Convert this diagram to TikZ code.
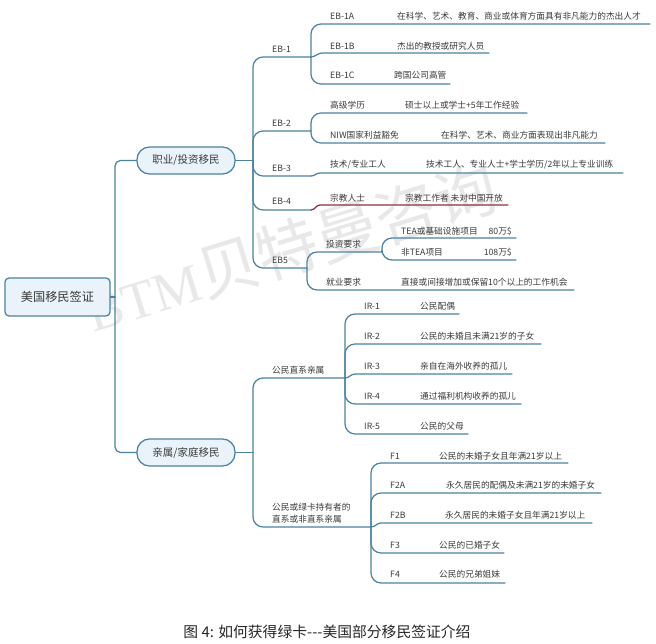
\documentclass[tikz,border=0pt]{standalone}
\usepackage{fontspec}
\setmainfont{Noto Sans CJK SC}
\newfontfamily\wmlatin{Liberation Serif}
\definecolor{linec}{HTML}{4A82A0}
\definecolor{boxfill}{HTML}{EAF3FA}
\definecolor{txt}{HTML}{3A3A3A}
\definecolor{wm}{HTML}{E8E8E8}
\definecolor{redline}{HTML}{8E3036}
\tikzset{
  conn/.style={draw=linec,line width=1.25pt,line cap=round},
  redconn/.style={draw=redline,line width=1.25pt,line cap=round},
  rc/.style={rounded corners=10pt},
  rs/.style={rounded corners=5.5pt},
  lab/.style={anchor=west,inner sep=0pt,text=txt,font=\fontsize{8.7}{10}\selectfont},
  rootbox/.style={draw=linec,line width=1.25pt,fill=boxfill,rounded corners=4pt,minimum width=105pt,minimum height=38pt,inner sep=0pt,text=txt,font=\fontsize{12.2}{14}\selectfont},
  pill/.style={draw=linec,line width=1.25pt,fill=boxfill,rounded corners=12.5pt,minimum width=98pt,minimum height=27pt,inner sep=0pt,text=txt,font=\fontsize{10.5}{12}\selectfont},
  sbend/.style={to path={.. controls +(4,0) and +(-4,0) .. (\tikztotarget)}}
}
\newcommand{\lab}[4]{\node[lab] (#1) at (#2,#3) {#4};}
\begin{document}
\begin{tikzpicture}[x=1pt,y=-1pt]
\useasboundingbox (0,0) rectangle (656,644);
\fill[white] (0,0) rectangle (656,644);
% watermark
\node[rotate=17,text=wm,inner sep=0pt,font=\fontsize{62}{66}\selectfont] (wmark) at (291,248) {{\wmlatin\fontsize{54}{60}\selectfont BTM}贝特曼咨询};
% main boxes
\node[rootbox] (root) at (57.5,297) {美国移民签证};
\node[pill] (job) at (186,160.5) {职业/投资移民};
\node[pill] (fam) at (186,452.5) {亲属/家庭移民};
% junctions and line ends
\coordinate (jr) at (115,297);
\coordinate (js1) at (253,160.5);
\coordinate (js2) at (253,452.5);
\coordinate (j1) at (311,57);
\coordinate (j2) at (311,131);
\coordinate (j3) at (311,176);
\coordinate (j4) at (311,210);
\coordinate (j5) at (307,268);
\coordinate (j51) at (382,252);
\coordinate (jir) at (345,378);
\coordinate (jf) at (371,527);
\coordinate (e1a) at (650,24);
\coordinate (k1b) at (322,53);
\coordinate (e1b) at (489,53);
\coordinate (e1c) at (450,84);
\coordinate (e2a) at (527,113);
\coordinate (e2b) at (605,143);
\coordinate (k3) at (320,173);
\coordinate (e3) at (623,173);
\coordinate (k4) at (320,205);
\coordinate (e4) at (508,205);
\coordinate (e51a) at (516,238);
\coordinate (e51b) at (516,260);
\coordinate (e52) at (574,290);
\coordinate (eir1) at (459,314);
\coordinate (eir2) at (541,344);
\coordinate (kir3) at (355,374);
\coordinate (eir3) at (512,374);
\coordinate (eir4) at (521,404);
\coordinate (eir5) at (468,434);
\coordinate (ef1) at (568,463);
\coordinate (ef2a) at (601,493);
\coordinate (kf2b) at (381,523);
\coordinate (ef2b) at (592,523);
\coordinate (ef3) at (504,553);
\coordinate (ef4) at (505,583);
% connectors
\draw[conn] (root) -- (jr);
\draw[conn,rs] (jr) |- (job.west);
\draw[conn,rs] (jr) |- (fam.west);
\draw[conn] (job.east) -- (js1);
\draw[conn] (fam.east) -- (js2);
\draw[conn,rc] (js1) |- (j1);
\draw[conn,rc] (js1) |- (j2);
\draw[conn,rc] (js1) |- (j3);
\draw[conn,rc] (js1) |- (j4);
\draw[conn,rc] (js1) |- (j5);
\draw[conn,rc] (j1) |- (e1a);
\draw[conn] (j1) to[sbend] (k1b) -- (e1b);
\draw[conn,rc] (j1) |- (e1c);
\draw[conn,rc] (j2) |- (e2a);
\draw[conn,rc] (j2) |- (e2b);
\draw[conn] (j3) to[sbend] (k3) -- (e3);
\draw[redconn] (j4) to[sbend] (k4) -- (e4);
\draw[conn,rc] (j5) |- (j51);
\draw[conn,rc] (j5) |- (e52);
\draw[conn,rc] (j51) |- (e51a);
\draw[conn,rc] (j51) |- (e51b);
\draw[conn,rc] (js2) |- (jir);
\draw[conn,rc] (js2) |- (jf);
\draw[conn,rc] (jir) |- (eir1);
\draw[conn,rc] (jir) |- (eir2);
\draw[conn] (jir) to[sbend] (kir3) -- (eir3);
\draw[conn,rc] (jir) |- (eir4);
\draw[conn,rc] (jir) |- (eir5);
\draw[conn,rc] (jf) |- (ef1);
\draw[conn,rc] (jf) |- (ef2a);
\draw[conn] (jf) to[sbend] (kf2b) -- (ef2b);
\draw[conn,rc] (jf) |- (ef3);
\draw[conn,rc] (jf) |- (ef4);
% labels
\lab{t1}{272}{49}{EB-1}
\lab{t2}{272}{123}{EB-2}
\lab{t3}{272}{168}{EB-3}
\lab{t4}{272}{201}{EB-4}
\lab{t5}{272}{260}{EB5}
\lab{t1a}{330}{16}{EB-1A}
\lab{d1a}{397}{16}{在科学、艺术、教育、商业或体育方面具有非凡能力的杰出人才}
\lab{t1b}{330}{46}{EB-1B}
\lab{d1b}{397}{46}{杰出的教授或研究人员}
\lab{t1c}{330}{75}{EB-1C}
\lab{d1c}{394}{75}{跨国公司高管}
\lab{t2a}{330}{105}{高级学历}
\lab{d2a}{405}{105}{硕士以上或学士+5年工作经验}
\lab{t2b}{330}{135}{NIW国家利益豁免}
\lab{d2b}{441}{135}{在科学、艺术、商业方面表现出非凡能力}
\lab{t3a}{330}{165}{技术/专业工人}
\lab{d3a}{426}{165}{技术工人、专业人士+学士学历/2年以上专业训练}
\lab{t4a}{330}{198}{宗教人士}
\lab{d4a}{405}{198}{宗教工作者 未对中国开放}
\lab{t51}{326}{244}{投资要求}
\lab{d51a}{401}{231}{TEA或基础设施项目}
\node[lab,anchor=east] (m51a) at (512,231) {80万\$};
\lab{d51b}{401}{252}{非TEA项目}
\node[lab,anchor=east] (m51b) at (512,252) {108万\$};
\lab{t52}{326}{282}{就业要求}
\lab{d52}{401}{282}{直接或间接增加或保留10个以上的工作机会}
\lab{tir}{272}{370}{公民直系亲属}
\lab{i1}{364}{306}{IR-1}
\lab{di1}{420}{306}{公民配偶}
\lab{i2}{364}{336}{IR-2}
\lab{di2}{420}{336}{公民的未婚且未满21岁的子女}
\lab{i3}{364}{366}{IR-3}
\lab{di3}{420}{366}{亲自在海外收养的孤儿}
\lab{i4}{364}{396}{IR-4}
\lab{di4}{420}{396}{通过福利机构收养的孤儿}
\lab{i5}{364}{426}{IR-5}
\lab{di5}{420}{426}{公民的父母}
\lab{tf1}{272}{507}{公民或绿卡持有者的}
\lab{tf2}{272}{519}{直系或非直系亲属}
\lab{f1}{390}{456}{F1}
\lab{df1}{439}{456}{公民的未婚子女且年满21岁以上}
\lab{f2a}{390}{485}{F2A}
\lab{df2a}{446}{485}{永久居民的配偶及未满21岁的未婚子女}
\lab{f2b}{390}{515}{F2B}
\lab{df2b}{445}{515}{永久居民的未婚子女且年满21岁以上}
\lab{f3}{390}{545}{F3}
\lab{df3}{439}{545}{公民的已婚子女}
\lab{f4}{390}{574}{F4}
\lab{df4}{439}{574}{公民的兄弟姐妹}
\node[inner sep=0pt,text=black!85,font=\fontsize{14.8}{16}\selectfont] (cap) at (327,632) {图 4: 如何获得绿卡{-}{-}{-}美国部分移民签证介绍};
\end{tikzpicture}
\end{document}
